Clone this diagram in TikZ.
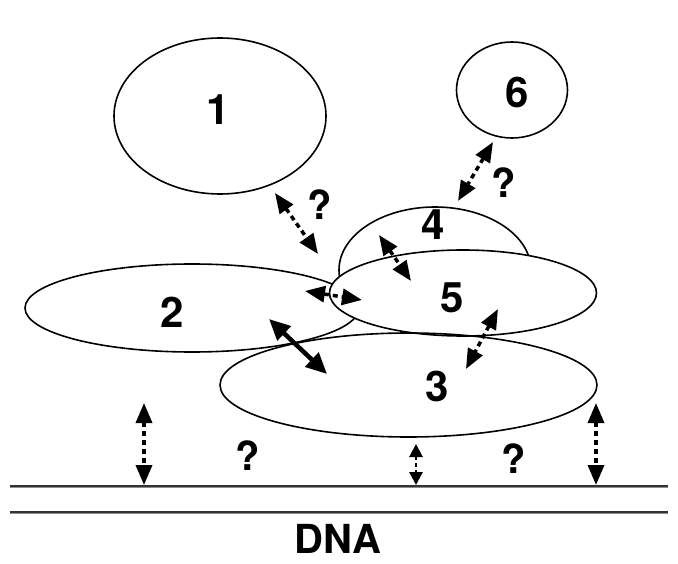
\documentclass[tikz,border=0pt]{standalone}
\usepackage{fontspec}
\setmainfont{TeX Gyre Heros}
\usetikzlibrary{shapes.geometric,arrows.meta}
\tikzset{
  blob/.style={draw=black, line width=1.6pt, ellipse, inner sep=0pt},
  num/.style={font=\fontsize{42}{46}\selectfont\bfseries, inner sep=0pt},
  qmark/.style={font=\fontsize{40}{44}\selectfont\bfseries, inner sep=0pt},
  darrow/.style={line width=3.5pt, dash pattern=on 5pt off 4pt,
    {Triangle[length=20pt,width=16pt]}-{Triangle[length=20pt,width=16pt]}},
  sarrow/.style={line width=2.8pt, dash pattern=on 4pt off 3pt,
    {Triangle[length=13pt,width=13pt]}-{Triangle[length=13pt,width=13pt]}},
  barrow/.style={line width=4.5pt,
    {Triangle[length=21pt,width=19pt]}-{Triangle[length=21pt,width=19pt]}},
  dna/.style={line width=3pt, draw=black!45},
  dnacore/.style={line width=1.2pt, draw=black!80},
}
\begin{document}
\begin{tikzpicture}[x=1pt,y=-1pt]
\useasboundingbox (0,0) rectangle (678,564);
% ellipses
\node[blob, minimum width=212pt, minimum height=156pt] (e1) at (220,116) {};
\node[blob, minimum width=111pt, minimum height=96pt] (e6) at (512,90) {};
\node[blob, minimum width=334pt, minimum height=88pt] (e2) at (192,308) {};
\node[blob, minimum width=192pt, minimum height=126pt] (e4) at (435,270) {};
\node[blob, fill=white, minimum width=267pt, minimum height=86pt] (e5) at (463,293) {};
\node[blob, minimum width=377pt, minimum height=104pt] (e3) at (408.5,385) {};
% labels
\node[num] (l1) at (218,110) {1};
\node[num] (l6) at (517,92) {6};
\node[num] (l2) at (172,312) {2};
\node[num] (l4) at (433,225) {4};
\node[num] (l5) at (452,298) {5};
\node[num] (l3) at (437,386) {3};
% question marks
\node[qmark] (q1) at (320,205) {?};
\node[qmark] (q2) at (504,183) {?};
\node[qmark] (q3) at (248,456) {?};
\node[qmark] (q4) at (514,459) {?};
% DNA
\coordinate (d1l) at (10,486);
\coordinate (d1r) at (668,486);
\coordinate (d2l) at (10,512);
\coordinate (d2r) at (668,512);
\draw[dna] (d1l) -- (d1r);
\draw[dna] (d2l) -- (d2r);
\draw[dnacore] (d1l) -- (d1r);
\draw[dnacore] (d2l) -- (d2r);
\node[font=\fontsize{40}{44}\selectfont\bfseries, inner sep=0pt] (dnalabel) at (338,539) {DNA};
% arrow end points
\coordinate (a1) at (275,193); \coordinate (a2) at (318,254);
\coordinate (b1) at (493,142); \coordinate (b2) at (458,201);
\coordinate (c1) at (379,235); \coordinate (c2) at (411,281);
\coordinate (d1) at (305,291); \coordinate (d2) at (362,300);
\coordinate (f1) at (498,309); \coordinate (f2) at (466,369);
\coordinate (g1) at (144,403); \coordinate (g2) at (144,485);
\coordinate (h1) at (416,444); \coordinate (h2) at (416,485);
\coordinate (k1) at (596,403); \coordinate (k2) at (596,485);
\coordinate (s1) at (269,319); \coordinate (s2) at (327,374);
% arrows
\draw[darrow] (a1) -- (a2);
\draw[darrow] (b1) -- (b2);
\draw[darrow] (c1) -- (c2);
\draw[darrow] (d1) -- (d2);
\draw[darrow] (f1) -- (f2);
\draw[darrow] (g1) -- (g2);
\draw[sarrow] (h1) -- (h2);
\draw[darrow] (k1) -- (k2);
\draw[barrow] (s1) -- (s2);
\end{tikzpicture}
\end{document}
